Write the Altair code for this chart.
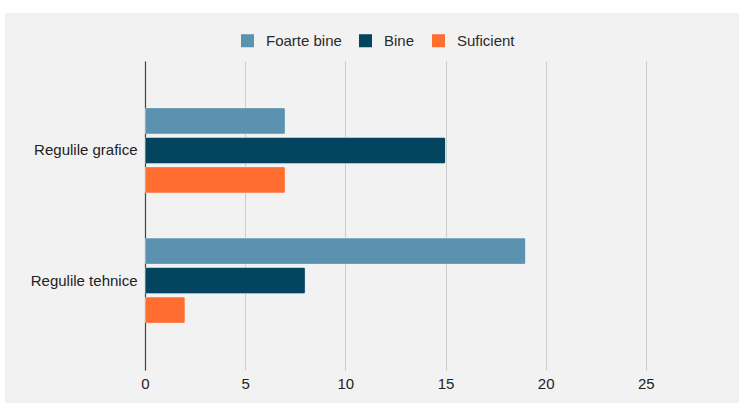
import altair as alt
import pandas as pd

# Evaluation categories and counts per grade
categories = ["Regulile grafice", "Regulile tehnice"]
series = ["Foarte bine", "Bine", "Suficient"]
foarte_bine = [7, 19]
bine = [15, 8]
suficient = [7, 2]
colors = ["#5a92b0", "#03445f", "#ff6d31"]
tick_values = [0, 5, 10, 15, 20, 25]

rows = []
for i, cat in enumerate(categories):
    for name, vals in zip(series, [foarte_bine, bine, suficient]):
        rows.append({"categorie": cat, "serie": name, "valoare": vals[i]})
df = pd.DataFrame(rows)

FONT = "Liberation Sans"
PLOT_W, PLOT_H = 593, 309

bars = alt.Chart(df).mark_bar(
    cornerRadius=2, stroke="#ffffff", strokeOpacity=0.35, strokeWidth=1
).encode(
    x=alt.X(
        "valoare:Q",
        scale=alt.Scale(domain=[0, 29.6], nice=False),
        axis=alt.Axis(
            values=tick_values, title=None, domain=False, ticks=False,
            grid=True, gridColor="#cccccc", gridWidth=1,
            labelFont=FONT, labelFontSize=15, labelColor="#222222",
            labelPadding=6, labelFlush=False,
        ),
    ),
    y=alt.Y(
        "categorie:N",
        sort=categories,
        scale=alt.Scale(paddingInner=0, paddingOuter=0.187),
        axis=alt.Axis(
            title=None, ticks=False, domain=True, domainColor="#444444",
            domainWidth=1.2, labelFont=FONT, labelFontSize=15,
            labelColor="#222222", labelPadding=8, grid=False,
        ),
    ),
    yOffset=alt.YOffset(
        "serie:N", sort=series,
        scale=alt.Scale(paddingInner=0.103, paddingOuter=0.7586),
    ),
    color=alt.Color(
        "serie:N", sort=series,
        scale=alt.Scale(domain=series, range=colors),
        legend=alt.Legend(
            title=None, orient="none", direction="horizontal",
            legendX=95, legendY=-28, symbolType="square", symbolSize=169,
            symbolStrokeWidth=0, labelFont=FONT, labelFontSize=15,
            labelColor="#2a2a2a", columnPadding=16, labelOffset=11,
        ),
    ),
)

# White margin strips framing the grey panel
frame = pd.DataFrame({"x": [0]})
top_strip = alt.Chart(frame).mark_rect(color="#ffffff", clip=False).encode(
    x=alt.value(-145), x2=alt.value(PLOT_W + 1), y=alt.value(-61), y2=alt.value(-48)
)
left_strip = alt.Chart(frame).mark_rect(color="#ffffff", clip=False).encode(
    x=alt.value(-145), x2=alt.value(-140), y=alt.value(-61), y2=alt.value(PLOT_H + 33)
)

chart = alt.layer(bars, top_strip, left_strip).properties(
    width=PLOT_W,
    height=PLOT_H,
    background="#f2f2f2",
    padding={"left": 145, "top": 61, "right": 1, "bottom": 33},
    autosize=alt.AutoSizeParams(type="none"),
).configure_view(stroke=None, fill="#f2f2f2")

chart.save("out.html", embed_options={"renderer": "svg", "actions": False})
